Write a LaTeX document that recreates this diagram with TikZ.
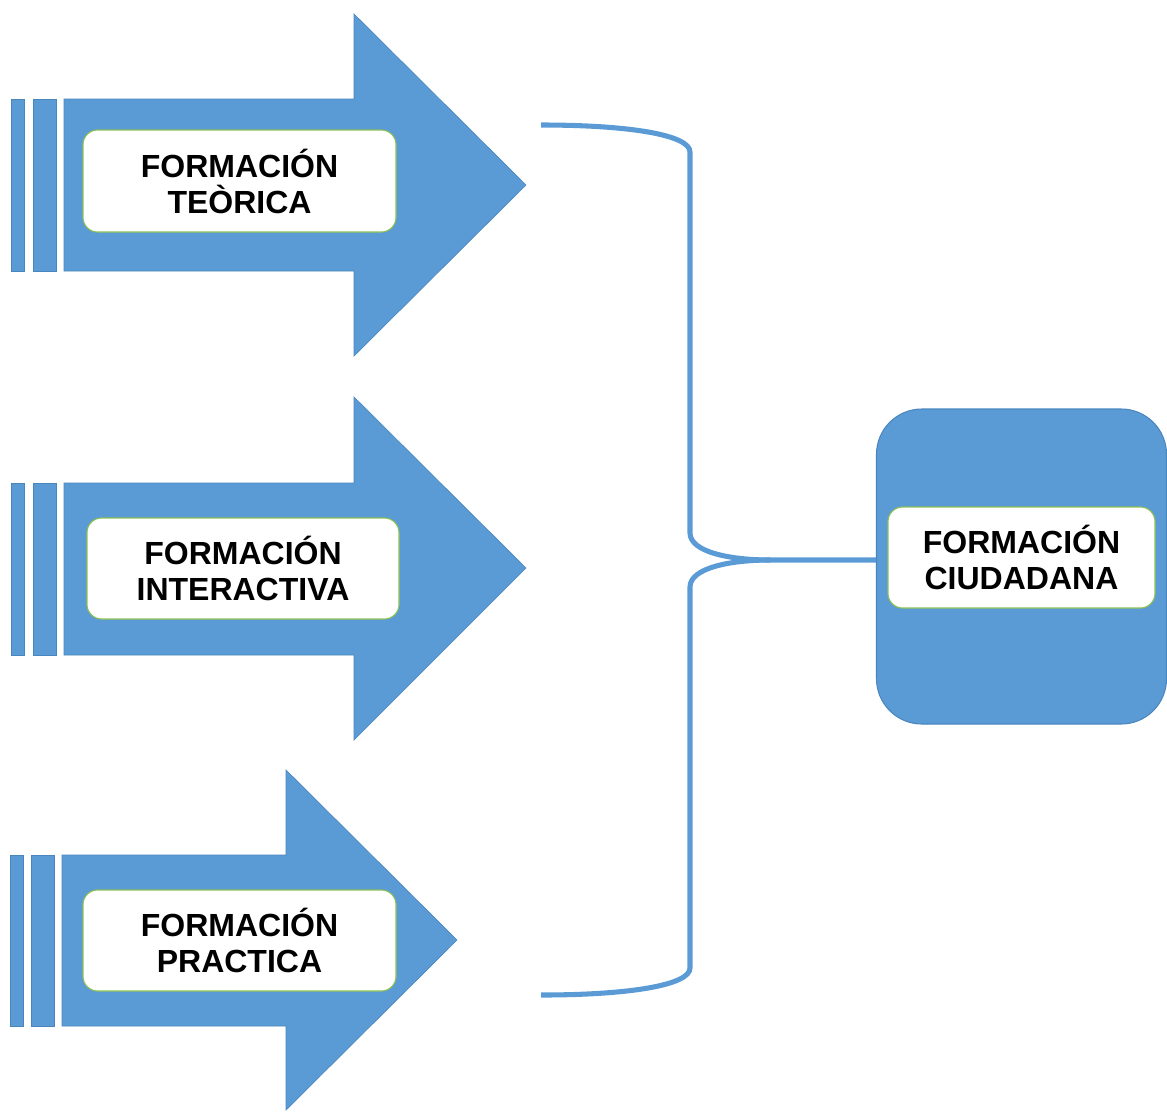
\documentclass[tikz,border=0pt]{standalone}
\usepackage{fontspec}
\setmainfont{Liberation Sans}
\definecolor{ablue}{HTML}{5B9BD5}
\definecolor{bline}{HTML}{4A86BE}
\definecolor{gline}{HTML}{8CC152}
\begin{document}
\begin{tikzpicture}[x=0.75pt,y=-0.75pt,
  arrowshape/.style={fill=ablue,draw=bline,line width=0.5pt},
  tbox/.style={fill=white,draw=gline,line width=0.8pt,rounded corners=11pt,align=center,
    font=\fontsize{24}{27}\selectfont\bfseries,inner sep=0pt},
  bigbox/.style={fill=ablue,draw=bline,line width=0.8pt,rounded corners=34pt},
  brace/.style={draw=ablue,line width=3.8pt}]
\useasboundingbox (0,0) rectangle (1167,1111);
% arrow 1
\draw[arrowshape] (11,99) rectangle (24,271);
\draw[arrowshape] (33,99) rectangle (56,271);
\draw[arrowshape] (64,99) -- (354,99) -- (354,14) -- (526,185) -- (354,356) -- (354,271) -- (64,271) -- cycle;
% arrow 2
\draw[arrowshape] (11,483) rectangle (24,655);
\draw[arrowshape] (33,483) rectangle (56,655);
\draw[arrowshape] (64,483) -- (354,483) -- (354,397) -- (526,568) -- (354,740) -- (354,655) -- (64,655) -- cycle;
% arrow 3
\draw[arrowshape] (10,855) rectangle (23,1026);
\draw[arrowshape] (31,855) rectangle (54,1026);
\draw[arrowshape] (62,855) -- (286,855) -- (286,770) -- (457,940) -- (286,1110) -- (286,1026) -- (62,1026) -- cycle;
% text boxes
\node[tbox,minimum width=313*0.75pt,minimum height=102*0.75pt] (t1) at (239.5,181) {FORMACIÓN\\TEÒRICA};
\node[tbox,minimum width=312*0.75pt,minimum height=101*0.75pt] (t2) at (243,568.5) {FORMACIÓN\\INTERACTIVA};
\node[tbox,minimum width=313*0.75pt,minimum height=101*0.75pt] (t3) at (239.5,940.5) {FORMACIÓN\\PRACTICA};
% right box
\node[bigbox,minimum width=290*0.75pt,minimum height=315*0.75pt] (cbox) at (1021.5,566.5) {};
\node[tbox,minimum width=267*0.75pt,minimum height=101*0.75pt] (t4) at (1021.5,557.5) {FORMACIÓN\\CIUDADANA};
% brace
\coordinate (btop) at (541,125);
\coordinate (bbot) at (541,995);
\coordinate (cusp) at (770,560);
\draw[brace] (btop) .. controls (630,125) and (690,135) .. (690,152) -- (690,533)
  .. controls (690,552) and (730,560) .. (cusp) -- (cbox.west |- cusp);
\draw[brace] (cusp) .. controls (730,560) and (690,568) .. (690,587) -- (690,968)
  .. controls (690,985) and (630,995) .. (bbot);
\end{tikzpicture}
\end{document}
